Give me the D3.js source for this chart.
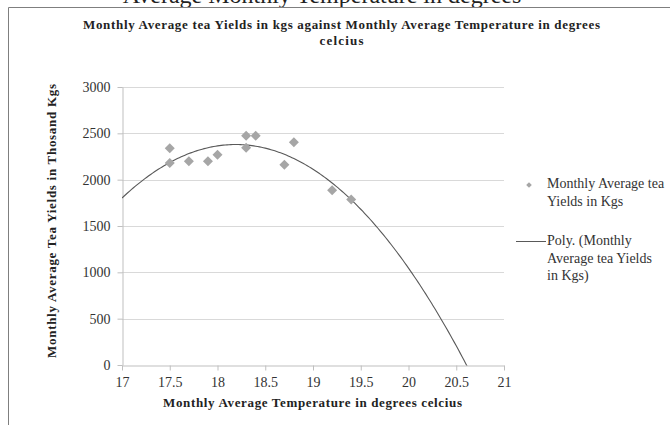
<!DOCTYPE html>
<html>
<head>
<meta charset="utf-8">
<script src="https://cdn.jsdelivr.net/npm/d3@7"></script>
<style>
  body { margin: 0; background: #fff; }
  svg { display: block; font-family: "Liberation Serif", "Times New Roman", serif; }
  svg text { font-family: "Liberation Serif", "Times New Roman", serif; }
</style>
</head>
<body>
<div id="chart"></div>
<script>
// data
const temps = [17.5, 17.5, 17.7, 17.9, 18.0, 18.3, 18.3, 18.4, 18.7, 18.8, 19.2, 19.4];
const yields = [2340, 2180, 2200, 2200, 2270, 2475, 2345, 2475, 2160, 2405, 1885, 1785];
const xTicks = [17, 17.5, 18, 18.5, 19, 19.5, 20, 20.5, 21];
const yTicks = [0, 500, 1000, 1500, 2000, 2500, 3000];
const legendLabels = [["Monthly Average tea", "Yields in Kgs"], ["Poly. (Monthly", "Average tea Yields", "in Kgs)"]];

const WIDTH = 670;
const HEIGHT = 425;
const M = { left: 122, right: 504, top: 87, bottom: 365 };

const svg = d3.select("#chart").append("svg")
    .attr("width", WIDTH)
    .attr("height", HEIGHT);

// bit of the page caption above, cut off by the crop
svg.append("text")
    .attr("x", 322)
    .attr("y", 3)
    .attr("text-anchor", "middle")
    .style("font-size", "24px")
    .attr("fill", "#222")
    .text("Average Monthly Temperature in degrees");

// chart frame
svg.append("path")
    .attr("d", `M8.5,${HEIGHT} V7.5 H${WIDTH}`)
    .attr("fill", "none")
    .attr("stroke", "#7f7f7f")
    .attr("stroke-width", 1);

const x = d3.scaleLinear().domain([17, 21]).range([M.left, M.right]);
const y = d3.scaleLinear().domain([0, 3000]).range([M.bottom, M.top]);

// gridlines
svg.append("g")
    .selectAll("line")
    .data(yTicks.filter(d => d > 0))
    .enter()
    .append("line")
    .attr("x1", M.left).attr("x2", M.right)
    .attr("y1", d => Math.round(y(d)) + 0.5)
    .attr("y2", d => Math.round(y(d)) + 0.5)
    .attr("stroke", "#d9d9d9");

// axes
const xAxis = svg.append("g")
    .attr("transform", `translate(0,${M.bottom + 0.5})`)
    .call(d3.axisBottom(x).tickValues(xTicks).tickSize(5).tickSizeOuter(0).tickFormat(d3.format("")));
const yAxis = svg.append("g")
    .attr("transform", `translate(${M.left + 0.5},0)`)
    .call(d3.axisLeft(y).tickValues(yTicks).tickSize(5).tickSizeOuter(0).tickPadding(7).tickFormat(d3.format("d")));

[xAxis, yAxis].forEach(a => {
    a.attr("font-family", "Liberation Serif").attr("font-size", 14);
    a.select(".domain").attr("stroke", "#bfbfbf");
    a.selectAll(".tick line").attr("stroke", "#bfbfbf");
    a.selectAll(".tick text").attr("fill", "#333");
});
xAxis.selectAll(".tick text").attr("dy", "0.95em");

// 2nd order polynomial trendline (least squares), like the spreadsheet does it
function polyFit(xs, ys) {
    const S = [0, 0, 0, 0, 0];
    const T = [0, 0, 0];
    xs.forEach((xv, i) => {
        for (let k = 0; k < 5; k++) S[k] += Math.pow(xv, k);
        for (let k = 0; k < 3; k++) T[k] += ys[i] * Math.pow(xv, k);
    });
    const A = [[S[0], S[1], S[2], T[0]], [S[1], S[2], S[3], T[1]], [S[2], S[3], S[4], T[2]]];
    for (let i = 0; i < 3; i++) {
        for (let j = i + 1; j < 3; j++) {
            const f = A[j][i] / A[i][i];
            for (let k = i; k < 4; k++) A[j][k] -= f * A[i][k];
        }
    }
    const c = [0, 0, 0];
    for (let i = 2; i >= 0; i--) {
        let s = A[i][3];
        for (let k = i + 1; k < 3; k++) s -= A[i][k] * c[k];
        c[i] = s / A[i][i];
    }
    return c;
}
const coef = polyFit(temps, yields);
const trend = d3.range(17, 21.001, 0.02).map(t => [t, coef[0] + coef[1] * t + coef[2] * t * t]);

svg.append("clipPath").attr("id", "plot")
    .append("rect")
    .attr("x", M.left).attr("y", M.top)
    .attr("width", M.right - M.left).attr("height", M.bottom - M.top + 0.5);

svg.append("path")
    .datum(trend)
    .attr("clip-path", "url(#plot)")
    .attr("fill", "none")
    .attr("stroke", "#595959")
    .attr("stroke-width", 1.1)
    .attr("d", d3.line().x(d => x(d[0])).y(d => y(d[1])));

// points
svg.append("g")
    .selectAll("path")
    .data(temps.map((t, i) => [t, yields[i]]))
    .enter()
    .append("path")
    .attr("transform", d => `translate(${x(d[0])},${y(d[1])}) rotate(45)`)
    .attr("d", d3.symbol().type(d3.symbolSquare).size(50))
    .attr("fill", "#a6a6a6");

// legend
const lg = svg.append("g").style("font-size", "14px").attr("fill", "#333");
lg.append("path")
    .attr("transform", "translate(529,185) rotate(45)")
    .attr("d", d3.symbol().type(d3.symbolSquare).size(16))
    .attr("fill", "#a6a6a6");
lg.append("line")
    .attr("x1", 516).attr("x2", 546)
    .attr("y1", 241.5).attr("y2", 241.5)
    .attr("stroke", "#595959");
const legendY = [188, 245];
legendLabels.forEach((lines, i) => {
    lines.forEach((s, j) => {
        lg.append("text")
            .attr("x", 547)
            .attr("y", legendY[i] + j * 17.5)
            .text(s);
    });
});

// titles
function boldText(tx, ty, len, s, rot) {
    return svg.append("text")
        .attr("transform", `translate(${tx},${ty})` + (rot ? " rotate(-90)" : ""))
        .attr("text-anchor", "middle")
        .attr("textLength", len)
        .attr("lengthAdjust", "spacing")
        .style("font-size", "13px").style("font-weight", "bold")
        .attr("fill", "#222")
        .text(s);
}
boldText(341.5, 29, 517, "Monthly  Average tea Yields in  kgs against Monthly  Average Temperature in  degrees");
boldText(341.5, 45, 44, "celcius");
boldText(312.5, 407, 299, "Monthly  Average Temperature  in  degrees celcius");
boldText(56, 221, 274, "Monthly  Average Tea  Yields  in  Thosand Kgs", true);
</script>
</body>
</html>
